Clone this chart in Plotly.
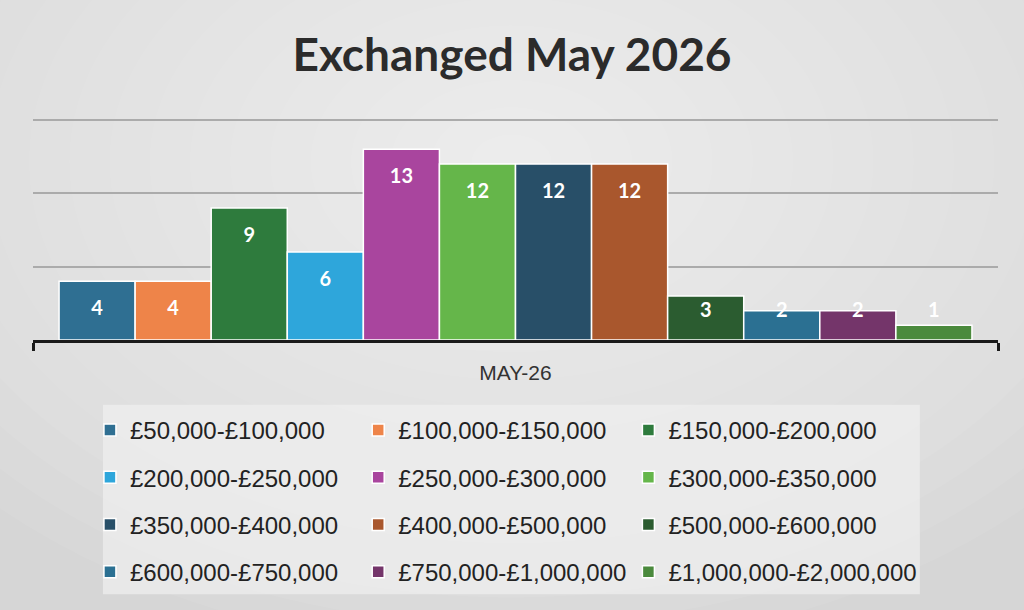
import numpy as np
import plotly.graph_objects as go

month = "MAY-26"
price_bands = [
    "£50,000-£100,000", "£100,000-£150,000", "£150,000-£200,000",
    "£200,000-£250,000", "£250,000-£300,000", "£300,000-£350,000",
    "£350,000-£400,000", "£400,000-£500,000", "£500,000-£600,000",
    "£600,000-£750,000", "£750,000-£1,000,000", "£1,000,000-£2,000,000",
]
exchanged = [4, 4, 9, 6, 13, 12, 12, 12, 3, 2, 2, 1]
colours = [
    "#2F6F92", "#EE8449", "#2E7B3D", "#2EA6DB", "#A9459E", "#65B64A",
    "#284F68", "#A9572D", "#2B5C30", "#2B7092", "#74356A", "#4B8A3D",
]

# Excel puts the labels ~2 units under the bar top, but never below ~1.9
label_y = np.maximum(np.array(exchanged) - 1.95, 1.9)

legend_names = ["legend", "legend2", "legend3"]

fig = go.Figure()
for i, (band, n, col) in enumerate(zip(price_bands, exchanged, colours)):
    fig.add_trace(go.Bar(
        x=[month], y=[n], name=band,
        marker=dict(color=col, line=dict(color="white", width=1.5)),
        offsetgroup=str(i), legendgroup=band,
        legend=legend_names[i % 3],
    ))
for i, (n, ly) in enumerate(zip(exchanged, label_y)):
    fig.add_trace(go.Scatter(
        x=[month], y=[ly], text=[str(n)], mode="text",
        textfont=dict(family="Lato", size=20, color="white", weight="bold"),
        offsetgroup=str(i), showlegend=False, hoverinfo="skip",
    ))

legend_style = dict(
    orientation="v", xanchor="left", yanchor="top", y=-0.305,
    itemwidth=30, tracegroupgap=13, traceorder="grouped",
    bgcolor="rgba(0,0,0,0)",
    font=dict(family="Liberation Sans", size=24, color="#222222"),
)

# soft radial light behind the chart (many faint stacked ellipses)
glow = []
steps = 18
for k in range(steps):
    s = 1 - k / steps
    glow.append(dict(type="circle", xref="paper", yref="paper", layer="below",
                     x0=0.496 - 0.75 * s, x1=0.496 + 0.75 * s,
                     y0=0.8 - 2.2 * s, y1=0.8 + 2.2 * s,
                     fillcolor="rgba(255,255,255,0.06)", line=dict(width=0)))
legend_box = dict(type="rect", xref="paper", yref="paper", layer="below",
                  x0=0.0725, x1=0.919, y0=-0.29, y1=-1.14,
                  fillcolor="rgba(240,240,240,0.7)", line=dict(width=0))

fig.update_layout(
    width=1024, height=610,
    margin=dict(l=33, r=26, t=117, b=270),
    paper_bgcolor="#D6D6D6", plot_bgcolor="rgba(0,0,0,0)",
    barmode="group", bargap=0.054, bargroupgap=0,
    scattermode="group", scattergap=0.054,
    title=dict(text="<b>Exchanged May 2026</b>", x=0.5, xanchor="center",
               y=0.91, yanchor="middle",
               font=dict(family="Lato", size=46, color="#2B2B2B")),
    xaxis=dict(showline=True, linecolor="#1A1A1A", linewidth=3,
               ticks="outside", tickson="boundaries", ticklen=8, tickwidth=3,
               tickcolor="#1A1A1A", ticklabelstandoff=12,
               tickfont=dict(family="Liberation Sans", size=21, color="#333333")),
    yaxis=dict(range=[0, 15.2], tickvals=[5, 10, 15], showticklabels=False,
               gridcolor="#ABABAB", gridwidth=1.5, zeroline=False),
    legend=dict(legend_style, x=0.059),
    legend2=dict(legend_style, x=0.337),
    legend3=dict(legend_style, x=0.617),
    shapes=glow + [legend_box],
)

fig.write_html("out.html", config={"displayModeBar": False},
               post_script="document.body.style.margin='0';")
